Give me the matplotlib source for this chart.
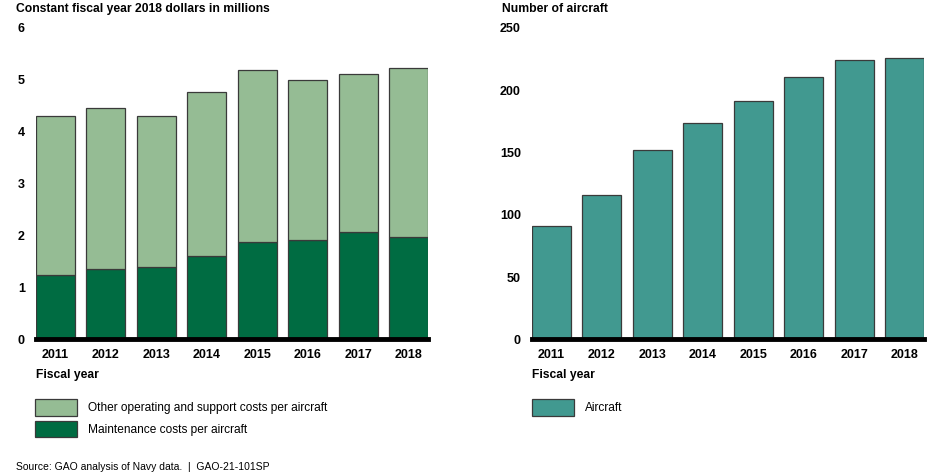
import matplotlib
matplotlib.use("Agg")
import matplotlib.pyplot as plt
import numpy as np

plt.rcParams['font.family'] = ['Liberation Sans', 'DejaVu Sans']

years = ['2011', '2012', '2013', '2014', '2015', '2016', '2017', '2018']
maintenance = [1.24, 1.35, 1.40, 1.60, 1.88, 1.92, 2.07, 1.97]
total_cost = [4.31, 4.45, 4.31, 4.77, 5.19, 4.99, 5.12, 5.22]
other_costs = [t - m for t, m in zip(total_cost, maintenance)]
aircraft = [91, 116, 152, 174, 191, 211, 224, 226]

LIGHT = '#95bc94'
DARK = '#006c42'
TEAL = '#419990'
EDGE = '#3a3a3a'

fig = plt.figure(figsize=(9.4, 4.72), dpi=100)
ax1 = fig.add_axes([0.0383, 0.2811, 0.417, 0.6596])
ax2 = fig.add_axes([0.566, 0.2811, 0.417, 0.6596])

x = np.arange(len(years))
w = 0.77

b1 = ax1.bar(x, maintenance, w, color=DARK, edgecolor=EDGE, linewidth=0.9,
             label='Maintenance costs per aircraft')
b2 = ax1.bar(x, other_costs, w, bottom=maintenance, color=LIGHT, edgecolor=EDGE,
             linewidth=0.9, label='Other operating and support costs per aircraft')
ax1.set_ylim(0, 6)
ax1.set_yticks(range(0, 7))

b3 = ax2.bar(x, aircraft, w, color=TEAL, edgecolor=EDGE, linewidth=0.9, label='Aircraft')
ax2.set_ylim(0, 250)
ax2.set_yticks(range(0, 251, 50))

for ax in (ax1, ax2):
    ax.set_xlim(-w / 2, len(years) - 1 + w / 2)
    ax.set_xticks(x)
    ax.set_xticklabels(years)
    for s in ax.spines.values():
        s.set_visible(False)
    ax.axhline(0, color='black', linewidth=3.5, zorder=5, clip_on=False)
    ax.tick_params(length=0, labelsize=9, pad=8)
    ax.tick_params(axis='x', pad=7)
    for lab in ax.get_xticklabels() + ax.get_yticklabels():
        lab.set_fontweight('bold')

fig.text(16.5 / 940, 1 - 9 / 472, 'Constant fiscal year 2018 dollars in millions',
         fontsize=8.7, fontweight='bold', va='center', ha='left')
fig.text(501.5 / 940, 1 - 9 / 472, 'Number of aircraft',
         fontsize=8.7, fontweight='bold', va='center', ha='left')
fig.text(36 / 940, 1 - 375 / 472, 'Fiscal year', fontsize=8.7, fontweight='bold',
         va='center', ha='left')
fig.text(532 / 940, 1 - 375 / 472, 'Fiscal year', fontsize=8.7, fontweight='bold',
         va='center', ha='left')

leg_kw = dict(loc='upper left', frameon=False, fontsize=8.6, borderpad=0,
              borderaxespad=0, handlelength=3.5, handleheight=1.75,
              handletextpad=0.9, labelspacing=0.42)
fig.legend([b2, b1], ['Other operating and support costs per aircraft',
                      'Maintenance costs per aircraft'],
           bbox_to_anchor=(35 / 940, 1 - 399 / 472), **leg_kw)
fig.legend([b3], ['Aircraft'], bbox_to_anchor=(532 / 940, 1 - 399 / 472), **leg_kw)

fig.text(16.5 / 940, 1 - 467 / 472, 'Source: GAO analysis of Navy data.  |  GAO-21-101SP',
         fontsize=7.5, va='center', ha='left')

fig.savefig('out.png', dpi=100)
